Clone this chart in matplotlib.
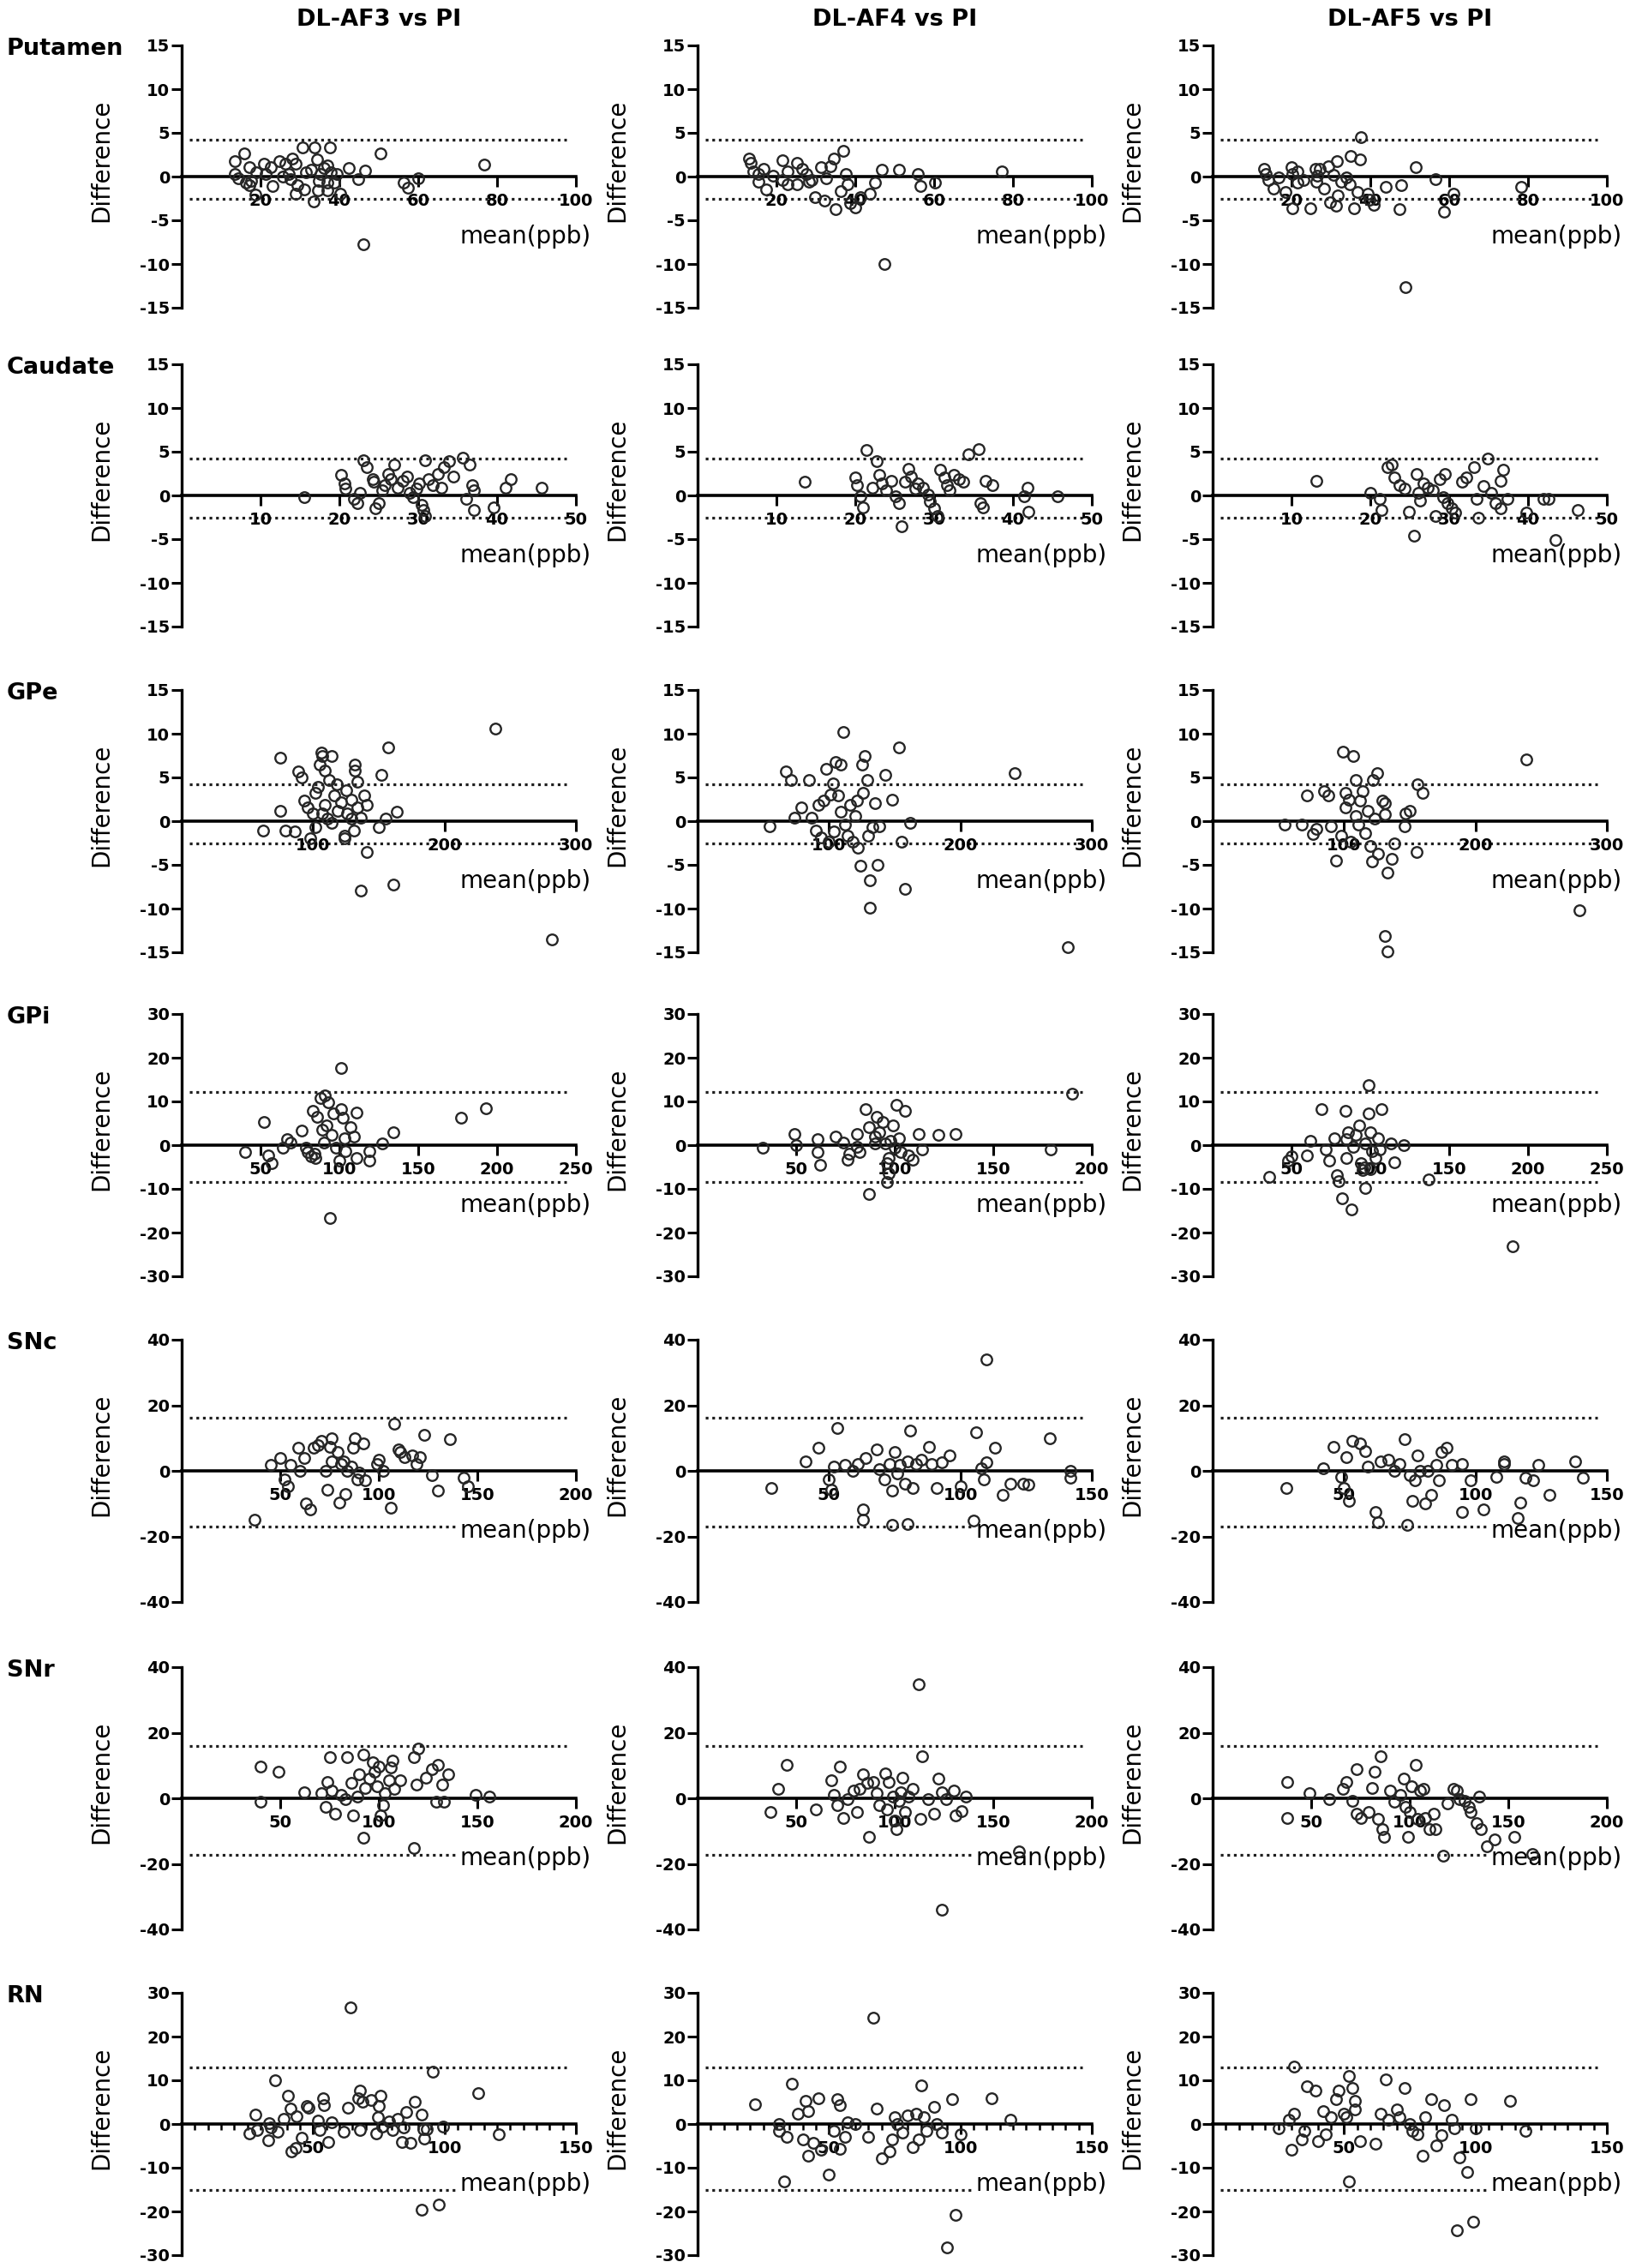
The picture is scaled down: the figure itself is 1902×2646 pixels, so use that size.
import matplotlib
matplotlib.use('Agg')
import matplotlib.pyplot as plt
import matplotlib.transforms as mtransforms
from matplotlib.ticker import MultipleLocator

plt.rcParams['font.family'] = ['DejaVu Sans']

COLUMNS = ['DL-AF3 vs PI', 'DL-AF4 vs PI', 'DL-AF5 vs PI']
REGIONS = ['Putamen', 'Caudate', 'GPe', 'GPi', 'SNc', 'SNr', 'RN']

# y-axis limits / tick step per region
Y_LIMITS = [15, 15, 15, 30, 40, 40, 30]
Y_STEPS = [5, 5, 5, 10, 20, 20, 10]
# x-axis maximum per region and column
X_MAX = [[100, 100, 100], [50, 50, 50], [300, 300, 300], [250, 200, 250],
         [200, 150, 150], [200, 200, 200], [150, 150, 150]]
X_STEPS = [20, 10, 100, 50, 50, 50, 50]
X_MINOR = [None, None, None, None, None, None, 5]
# limits of agreement (upper, lower)
LOA_UPPER = [4.2, 4.2, 4.2, 12.1, 16.1, 16.0, 12.9]
LOA_LOWER = [-2.5, -2.5, -2.5, -8.5, -17.0, -17.2, -15.0]

# ---------------- data: (mean, difference) ----------------
PUT_AF3 = [(13.5, 1.8), (15.8, 2.6), (13.5, 0.3), (14.4, -0.2), (16.2, -0.65), (17.1, 1.1), (17.1, -1.0),
           (17.6, -0.5), (19.0, 0.5), (18.8, -2.1), (20.8, 1.5), (21.2, 0.3), (23.0, -1.1), (22.6, 1.1),
           (24.8, 1.8), (26.2, 1.5), (25.7, 0.0), (27.1, 0.3), (28.0, 2.1), (28.9, 1.5), (27.5, -0.3),
           (29.3, -1.0), (28.9, -2.0), (30.7, 3.3), (31.1, -1.5), (31.6, 0.5), (32.9, 0.8), (33.4, -2.8),
           (33.8, 3.3), (34.3, 2.0), (34.7, -0.5), (34.6, -1.6), (35.2, 0.3), (36.1, 1.0), (37.0, -0.65),
           (37.5, 3.3), (37.0, 1.3), (37.0, -1.6), (37.9, 0.5), (38.8, -0.65), (39.3, 0.3), (40.2, -2.0),
           (42.4, 1.0), (44.7, -0.3), (46.5, 0.65), (46.0, -7.7), (50.4, 2.6), (56.4, -0.65), (57.3, -1.3),
           (60.0, -0.2), (76.7, 1.4)]
PUT_AF4 = [(13.0, 2.1), (13.5, 1.6), (14.2, 0.6), (15.4, -0.55), (16.7, 0.9), (17.4, -1.5), (19.1, 0.1),
           (21.6, 1.9), (22.8, -0.9), (22.8, 0.6), (25.2, 1.6), (26.5, 0.9), (27.7, 0.3), (28.2, -0.55),
           (29.7, -2.4), (31.4, 1.1), (32.1, -2.7), (32.6, -0.2), (33.8, 1.2), (34.6, 2.1), (35.0, -3.7),
           (36.3, -1.7), (37.0, 2.9), (37.5, 0.3), (38.0, -0.9), (38.7, -3.0), (40.0, -3.5), (41.2, -2.4),
           (43.6, -2.0), (44.9, -0.7), (46.8, 0.75), (51.0, 0.75), (55.9, 0.3), (56.6, -1.05), (60.3, -0.7),
           (77.2, 0.6), (47.3, -10.0), (25.2, -0.9), (28.9, -0.4), (21.6, -0.4), (15.4, 0.3)]
PUT_AF5 = [(13.0, 0.9), (13.5, 0.3), (14.2, -0.4), (15.5, -1.4), (16.7, -0.1), (18.5, -1.8), (19.9, 1.1),
           (20.3, 0.3), (21.6, -0.7), (20.2, -3.6), (24.8, -3.6), (23.1, -0.4), (26.0, 0.9), (27.1, 0.9),
           (26.3, -0.6), (28.2, -1.4), (29.4, 1.2), (29.8, -2.9), (31.5, 1.8), (31.3, -3.3), (31.7, -2.2),
           (33.9, -0.1), (34.7, -0.9), (35.1, 2.4), (35.9, -3.6), (36.7, -1.8), (37.6, 4.5), (37.4, 2.0),
           (39.3, -2.0), (40.8, -3.2), (39.8, -2.6), (44.0, -1.2), (47.3, -3.7), (47.9, -1.0), (48.9, -12.6),
           (51.5, 1.1), (56.5, -0.3), (58.8, -4.0), (61.0, -2.0), (78.2, -1.2), (21.6, 0.6), (26.5, 0.1),
           (32.6, -0.55), (30.6, 0.2)]

CAU_AF3 = [(15.5, -0.2), (20.2, 2.4), (20.6, 1.4), (20.8, 0.75), (21.8, -0.4), (22.3, -0.9), (22.6, 0.3),
           (23.0, 4.0), (23.5, 3.2), (24.2, 1.9), (24.4, 1.6), (24.6, -1.5), (25.0, -0.9), (25.4, 0.6),
           (25.8, 1.2), (26.2, 2.5), (26.5, 1.9), (27.0, 3.5), (27.4, 0.9), (28.0, 1.7), (28.6, 2.2),
           (28.9, 0.3), (29.4, -0.2), (29.8, 0.75), (30.1, 1.4), (30.4, -1.05), (30.6, -1.7), (30.9, -2.4),
           (30.9, 4.0), (31.3, 1.9), (31.8, 1.2), (32.5, 2.5), (32.9, 0.9), (33.3, 3.2), (33.9, 3.9),
           (34.5, 2.2), (35.7, 4.3), (36.1, -0.4), (36.5, 3.5), (36.9, 1.2), (37.1, 0.6), (37.1, -1.7),
           (39.6, -1.4), (41.1, 0.9), (41.7, 1.9), (45.6, 0.9)]
CAU_AF4 = [(13.6, 1.6), (20.0, 2.1), (20.2, 1.2), (20.6, -0.1), (21.0, -1.4), (21.4, 5.2), (22.2, 0.9),
           (22.7, 3.9), (23.0, 2.4), (23.4, 1.4), (23.9, 0.6), (24.6, 1.7), (25.1, -0.1), (25.5, -0.9),
           (25.9, -3.5), (26.3, 1.6), (26.7, 3.0), (27.1, 2.2), (27.6, 0.75), (27.9, 1.4), (28.6, 0.9),
           (29.2, 0.1), (29.5, -0.7), (30.0, -1.5), (30.4, -2.4), (30.8, 2.9), (31.3, 2.1), (31.6, 1.2),
           (32.0, 0.6), (32.5, 2.4), (33.2, 1.9), (33.7, 1.6), (34.4, 4.7), (35.7, 5.3), (35.9, -0.9),
           (36.2, -1.4), (36.5, 1.7), (37.4, 1.2), (41.4, -0.1), (41.8, 0.9), (42.0, -1.9), (45.7, -0.1)]
CAU_AF5 = [(13.2, 1.7), (20.0, 0.3), (21.2, -0.4), (21.4, -1.7), (22.2, 3.2), (22.7, 3.5), (23.0, 2.1),
           (23.7, 1.2), (24.3, 0.75), (24.9, -1.9), (25.5, -4.6), (25.9, 2.5), (26.1, 0.3), (26.3, -0.55),
           (26.7, 1.4), (27.3, 0.9), (27.9, 0.6), (28.3, -2.4), (28.8, 1.9), (29.2, -0.2), (29.5, 2.5),
           (29.8, -0.9), (30.3, -1.5), (30.8, -2.0), (31.6, 1.6), (32.2, 2.1), (33.5, -0.4), (33.7, -2.5),
           (33.2, 3.2), (34.4, 1.1), (34.9, 4.2), (35.3, 0.3), (35.9, -0.9), (36.5, 1.7), (36.5, -1.5),
           (36.9, 2.9), (37.4, -0.4), (39.8, -2.0), (42.0, -0.4), (42.6, -0.4), (43.5, -5.1), (46.3, -1.7)]

GPE_AF3 = [(62, -1.05), (75, 1.2), (75, 7.3), (79, -1.05), (86, -1.2), (89, 5.7), (91, 5.0), (93, 2.4),
           (96, 1.6), (98, -2.0), (100, 0.9), (102, -0.7), (102, 3.2), (104, 3.9), (105, 6.5), (106, 7.8),
           (107, 7.5), (109, 5.8), (109, 1.9), (111, 0.3), (112, 4.7), (114, 7.5), (116, 2.9), (118, 4.2),
           (119, 1.2), (121, 2.2), (124, -1.7), (125, 3.5), (126, 0.9), (129, 2.5), (129, 0.3), (131, -1.05),
           (132, 6.5), (132, 5.8), (134, 4.5), (134, 1.6), (136, 0.4), (136, -7.9), (139, 2.9), (141, 1.9),
           (141, -3.5), (150, -0.7), (152, 5.3), (155, 0.3), (157, 8.4), (161, -7.3), (164, 1.1), (239, 10.6),
           (282, -13.5), (124, -2.0), (114, -0.2), (107, 0.9)]
GPE_AF4 = [(55, -0.55), (67, 5.7), (71, 4.7), (74, 0.4), (79, 1.6), (85, 4.7), (87, 0.4), (90, -1.05),
           (92, 1.9), (94, -1.9), (96, 2.4), (98, 6.0), (100, -2.4), (101, 3.0), (103, 4.3), (104, -1.2),
           (105, 6.8), (107, 2.9), (109, 6.5), (109, 1.1), (111, 10.2), (112, -0.4), (114, -1.7), (116, 1.9),
           (118, -2.4), (120, 0.6), (121, 2.4), (122, -3.0), (124, -5.1), (125, 6.5), (126, 3.2), (127, 7.5),
           (129, 4.7), (130, -1.7), (131, -6.8), (131, -9.9), (133, -0.7), (135, 2.1), (137, -5.0),
           (138, -0.55), (143, 5.3), (148, 2.5), (153, 8.4), (155, -2.4), (158, -7.7), (162, -0.2),
           (241, 5.5), (282, -14.4)]
GPE_AF5 = [(55, -0.4), (68, -0.4), (72, 2.9), (76, -1.5), (79, -0.9), (85, 3.4), (88, 2.9), (90, -0.55),
           (94, -4.5), (98, -1.7), (99, 7.9), (101, 1.6), (101, 3.2), (104, 2.5), (105, -2.4), (107, 7.5),
           (109, 4.7), (109, 0.6), (111, -0.4), (112, 2.4), (114, 3.4), (116, -1.4), (118, 1.2), (120, -2.8),
           (121, -4.6), (122, 4.7), (123, 0.3), (125, 5.5), (126, -3.7), (129, 2.4), (131, 2.1), (131, 0.75),
           (133, -5.9), (131, -13.1), (133, -14.9), (136, -4.3), (138, -2.5), (146, -0.55), (147, 0.9),
           (150, 1.2), (155, -3.5), (156, 4.2), (160, 3.2), (239, 7.1), (279, -10.2)]

GPI_AF3 = [(40, -1.6), (52, 5.2), (55, -2.3), (57, -4.2), (64, -0.65), (67, 1.3), (69, 0.65), (76, 3.3),
           (79, -0.65), (82, -2.6), (83, 7.8), (85, -2.9), (86, 6.5), (88, 10.8), (89, 3.6), (91, 11.4),
           (92, 4.6), (93, 9.8), (94, -16.7), (95, 2.3), (96, 7.2), (98, -0.65), (100, -3.6), (101, 17.6),
           (101, 8.2), (102, 6.2), (103, 1.6), (104, -1.3), (107, 4.2), (109, 2.0), (111, 7.5), (111, -2.9),
           (119, -3.6), (119, -1.3), (127, 0.3), (134, 2.9), (177, 6.2), (193, 8.5), (84, -2.0), (80, -1.5),
           (90, 0.5)]
GPI_AF4 = [(33, -0.65), (49, 2.6), (50, 0.0), (61, 1.3), (61, -1.6), (62, -4.6), (70, 2.0), (74, 0.65),
           (76, -3.3), (77, -2.0), (81, 2.6), (81, -0.3), (82, -1.6), (85, 8.2), (87, 4.2), (87, -11.1),
           (90, 2.0), (91, 6.5), (92, 2.9), (94, 5.2), (95, 0.3), (96, -4.2), (96, -8.5), (97, -6.5),
           (98, 1.0), (99, 4.6), (100, -0.65), (101, 9.2), (102, 1.6), (103, -1.6), (105, 7.8), (107, -2.3),
           (109, -3.3), (112, 2.6), (114, -1.0), (122, 2.3), (131, 2.6), (179, -1.0), (190, 11.8),
           (97, -2.9), (90, 0.3)]
GPI_AF5 = [(36, -7.2), (48, -3.6), (50, -2.6), (60, -2.3), (62, 1.0), (69, 8.2), (72, -1.0), (74, -3.6),
           (77, 1.6), (79, -6.9), (80, -8.2), (82, -12.1), (84, 7.8), (85, 1.3), (85, -2.9), (88, -14.7),
           (86, 2.9), (89, -0.3), (91, 2.3), (93, 4.6), (94, -4.2), (95, -5.6), (97, -9.8), (97, 0.3),
           (99, 13.7), (99, 7.2), (100, 2.9), (101, -1.3), (103, -2.9), (105, 1.6), (106, -1.0), (107, 8.2),
           (113, 0.3), (115, -3.9), (121, 0.0), (137, -7.8), (190, -23.2), (96, -5.0), (100, -5.5)]

SNC_AF3 = [(37, -14.8), (45, 1.7), (50, 3.9), (52, -2.6), (54, -4.8), (55, 1.7), (59, 7.0), (60, 0.0),
           (62, 3.9), (63, -10.0), (65, -11.7), (67, 7.0), (69, 7.8), (71, 9.1), (73, 0.0), (74, -5.7),
           (75, 7.4), (76, 10.0), (76, 3.0), (79, 5.7), (80, -9.6), (81, 2.2), (82, 3.0), (83, -7.0),
           (84, 0.0), (86, 1.3), (87, 7.0), (88, 10.0), (89, -2.6), (90, -0.4), (92, 8.3), (93, -3.0),
           (99, 2.2), (100, 3.5), (102, 0.0), (106, -11.3), (108, 14.3), (110, 6.5), (111, 5.7), (113, 4.3),
           (117, 4.8), (119, 2.2), (121, 4.3), (123, 10.9), (127, -1.3), (130, -6.1), (136, 9.6),
           (143, -2.2), (145, -4.8)]
SNC_AF4 = [(28, -5.2), (41, 3.0), (46, 7.0), (50, -2.6), (51, -5.7), (52, 1.3), (53, 13.0), (56, 1.7),
           (59, 0.0), (61, 2.2), (63, -11.7), (63, -14.8), (64, 3.9), (68, 6.5), (69, 0.4), (71, -2.6),
           (73, 2.2), (74, -6.1), (74, -16.5), (75, 5.7), (76, -0.9), (77, 1.7), (79, -3.9), (80, -16.1),
           (80, 3.0), (81, 12.2), (82, -5.2), (83, 2.2), (85, 3.5), (88, 7.4), (89, 2.2), (91, -5.2),
           (93, 2.6), (96, 4.8), (100, -4.8), (105, -15.2), (106, 11.7), (108, 0.9), (109, -2.6), (110, 2.6),
           (113, 7.0), (116, -7.4), (119, -3.9), (124, -3.9), (126, -4.3), (134, 10.0), (142, 0.0),
           (142, -2.2), (110, 33.9)]
SNC_AF5 = [(28, -5.2), (42, 0.9), (46, 7.4), (49, -1.7), (50, -5.2), (51, 4.3), (52, -9.1), (53, 9.1),
           (56, 8.3), (58, 6.1), (59, 1.3), (62, -12.6), (63, -15.7), (64, 3.0), (67, 3.5), (69, 0.0),
           (71, 2.2), (73, 9.6), (74, -16.5), (75, -1.3), (76, -9.1), (77, -3.0), (78, 4.8), (79, 0.0),
           (81, -10.0), (82, 0.0), (83, -7.4), (85, 1.7), (86, -3.0), (87, 5.7), (89, 7.0), (91, 1.7),
           (95, -12.6), (95, 2.2), (98, -3.0), (103, -11.7), (108, -1.7), (111, 2.2), (111, 3.0),
           (116, -14.3), (117, -9.6), (119, -2.2), (122, -3.0), (124, 1.7), (128, -7.4), (138, 3.0),
           (141, -2.2)]

SNR_AF3 = [(40, -1.1), (40, 9.8), (49, 8.1), (62, 1.9), (71, 1.5), (73, -2.5), (74, 5.0), (75, 12.5),
           (76, 2.4), (78, -4.6), (81, 1.1), (83, -0.3), (84, 12.5), (86, 4.6), (87, -5.1), (89, 0.6),
           (90, 7.2), (92, -12.1), (92, 13.3), (93, 3.2), (95, 5.9), (97, 11.1), (98, 8.1), (99, 3.7),
           (100, 9.8), (101, -5.1), (102, -2.0), (103, 1.5), (105, 5.4), (106, 9.4), (107, 11.6), (108, 2.8),
           (111, 5.4), (118, -15.2), (118, 12.5), (119, 4.1), (120, 15.1), (124, 6.3), (127, 8.9),
           (129, -1.1), (130, 10.3), (132, 4.1), (133, -1.1), (135, 7.2), (149, 1.1), (156, 0.6)]
SNR_AF4 = [(37, -4.2), (41, 2.8), (45, 10.3), (60, -3.3), (68, 5.4), (69, 1.1), (71, -2.0), (72, 9.8),
           (74, -6.0), (76, -0.3), (79, 2.4), (81, -4.2), (82, 2.8), (84, 7.2), (86, 4.6), (87, -11.7),
           (89, 5.0), (91, 1.5), (92, -2.0), (95, 7.6), (96, -3.3), (97, 5.0), (99, 0.6), (100, -6.8),
           (101, -9.5), (102, -0.7), (103, 1.9), (104, 6.3), (105, -4.2), (107, 0.6), (109, 2.8),
           (112, 34.8), (113, -6.4), (114, 12.9), (117, -0.3), (120, -4.6), (122, 5.9), (124, 1.9),
           (124, -34.0), (126, -0.3), (130, 2.4), (131, -5.1), (134, -3.8), (136, 0.6), (163, -16.1)]
SNR_AF5 = [(38, 5.0), (38, -6.0), (49, 1.5), (59, -0.3), (66, 2.8), (68, 5.0), (71, -0.7), (73, -4.6),
           (73, 8.9), (75, -6.0), (79, -4.2), (81, 3.2), (82, 8.1), (84, -6.4), (85, 12.9), (86, -9.5),
           (87, -11.7), (90, 2.4), (92, -1.1), (95, 1.1), (97, 5.9), (98, -2.5), (99, -11.7), (100, -4.2),
           (101, 3.7), (103, 10.3), (104, -6.4), (105, 2.4), (107, 2.8), (108, -6.0), (110, -9.5),
           (112, -4.6), (113, -9.5), (117, -17.4), (119, -1.6), (122, 2.8), (124, 2.4), (125, -0.3),
           (128, -0.7), (130, -2.5), (131, -4.2), (134, -7.7), (135, 0.6), (136, -9.5), (139, -14.7),
           (143, -12.5), (153, -11.7), (162, -17.0)]

RN_AF3 = [(25.9, -2.1), (27.9, 2.2), (28.8, -1.4), (32.9, -3.7), (33.3, 0.2), (34.0, -0.8), (35.6, 10.0),
          (36.5, -1.8), (38.8, 1.2), (40.5, 6.4), (41.5, 3.5), (41.9, -6.3), (43.3, -5.4), (43.8, 1.8),
          (45.6, -3.1), (47.6, 4.1), (48.3, 3.8), (51.7, 0.8), (52.4, -1.4), (53.7, 5.8), (54.1, 4.4),
          (55.8, -4.1), (57.1, 0.3), (61.5, -1.8), (63.3, 3.8), (64.2, 26.7), (67.3, 5.8), (67.8, 7.7),
          (67.8, -1.4), (68.7, 5.1), (72.1, 5.4), (74.1, -2.1), (74.8, 1.5), (75.1, 4.1), (75.5, 6.4),
          (76.2, -0.5), (78.9, 0.5), (80.3, -1.4), (82.3, 1.2), (83.7, -4.1), (84.4, -0.8), (85.4, 2.8),
          (87.1, -4.4), (88.7, 5.1), (91.2, 2.2), (91.8, -1.1), (92.2, -3.4), (93.2, -1.1), (95.5, 12.0),
          (91.4, -19.7), (97.7, -18.4), (99.6, -0.5), (112.9, 7.1), (120.8, -2.4)]
RN_AF4 = [(22, 4.6), (31, 0.0), (31, -1.6), (33, -13.2), (34, -3.0), (36, 9.2), (38, 2.3), (40, -3.6),
          (41, 5.3), (42, 3.0), (42, -7.3), (44, -4.3), (46, 5.9), (47, -5.9), (50, -11.5), (52, -1.6),
          (53, 5.6), (54, 4.3), (54, -5.6), (56, -3.0), (57, 0.3), (60, 0.0), (65, -3.0), (67, 24.4),
          (68, 3.6), (70, -7.9), (73, -6.3), (74, -3.6), (75, 1.6), (76, 0.0), (78, -2.0), (80, 2.0),
          (82, -5.3), (83, 2.3), (84, -3.6), (85, 8.9), (86, 1.6), (87, -1.6), (90, 4.0), (91, 0.0),
          (93, -2.0), (95, -28.3), (97, 5.6), (98, -20.8), (100, -2.3), (112, 5.9), (119, 1.0)]
RN_AF5 = [(25, -1.0), (29, 1.0), (30, -5.9), (31, 2.3), (31, 13.2), (34, -3.6), (35, -1.6), (36, 8.6),
          (39, 7.6), (40, -4.0), (42, 3.0), (43, -2.3), (45, 1.6), (47, 5.6), (48, 7.6), (50, 2.3),
          (51, 1.6), (52, -13.2), (52, 10.9), (53, 8.2), (54, 5.3), (54, 3.3), (56, -4.0), (62, -4.6),
          (64, 2.3), (66, 10.2), (67, 1.0), (70, 3.3), (71, 1.6), (73, 8.2), (75, 0.0), (76, -1.6),
          (78, -2.3), (80, -7.3), (81, 1.6), (83, 5.6), (85, -4.9), (87, -2.6), (88, 4.3), (91, 1.0),
          (92, -1.0), (93, -24.4), (94, -7.6), (97, -10.9), (98, 5.6), (99, -22.4), (100, -1.0),
          (113, 5.3), (119, -1.6)]

DATA = [[PUT_AF3, PUT_AF4, PUT_AF5], [CAU_AF3, CAU_AF4, CAU_AF5], [GPE_AF3, GPE_AF4, GPE_AF5],
        [GPI_AF3, GPI_AF4, GPI_AF5], [SNC_AF3, SNC_AF4, SNC_AF5], [SNR_AF3, SNR_AF4, SNR_AF5],
        [RN_AF3, RN_AF4, RN_AF5]]

# ---------------- layout (pixels) ----------------
W, H = 1902, 2646
DPI = 100
fig = plt.figure(figsize=(W / DPI, H / DPI), dpi=DPI)

COL_LEFT = [212, 814, 1415]
AX_W = 460
ROW_TOP = [53, 425, 805, 1183, 1563, 1945, 2325]
AX_H = 306

TICK_FS = 14
LABEL_FS = 20
HEAD_FS = 19.5

for r, region in enumerate(REGIONS):
    for c in range(3):
        left = COL_LEFT[c] / W
        bottom = 1 - (ROW_TOP[r] + AX_H) / H
        ax = fig.add_axes([left, bottom, AX_W / W, AX_H / H])
        xmax = X_MAX[r][c]
        ylim = Y_LIMITS[r]
        ax.set_xlim(0, xmax)
        ax.set_ylim(-ylim, ylim)

        pts = DATA[r][c]
        xs = [p[0] for p in pts]
        ys = [p[1] for p in pts]
        ax.plot(xs, ys, linestyle='none', marker='o', markersize=9,
                markerfacecolor='none', markeredgecolor='#262626', markeredgewidth=1.7,
                zorder=3, clip_on=False)

        # limits of agreement
        for v in (LOA_UPPER[r], LOA_LOWER[r]):
            ax.axhline(v, xmin=0.02, xmax=0.975, color='#1e1e1e', linewidth=2.3,
                       linestyle=(0, (1.0, 1.4)), zorder=1)

        for s in ('top', 'right'):
            ax.spines[s].set_visible(False)
        ax.spines['bottom'].set_position(('data', 0))
        ax.spines['bottom'].set_linewidth(2.6)
        ax.spines['left'].set_linewidth(2.4)

        xt = list(range(X_STEPS[r], xmax + 1, X_STEPS[r]))
        ax.set_xticks(xt)
        ax.set_xticklabels([str(t) for t in xt], fontweight='bold', fontsize=TICK_FS)
        yt = list(range(-ylim, ylim + 1, Y_STEPS[r]))
        ax.set_yticks(yt)
        ax.set_yticklabels([str(t) for t in yt], fontweight='bold', fontsize=TICK_FS)
        if X_MINOR[r]:
            ax.xaxis.set_minor_locator(MultipleLocator(X_MINOR[r]))
            ax.tick_params(axis='x', which='minor', direction='out', length=5, width=1.8)
        ax.tick_params(axis='x', which='major', direction='out', length=8.5, width=2.2, pad=5)
        ax.tick_params(axis='y', which='major', direction='out', length=8.5, width=2.2, pad=1.5)

        ax.set_ylabel('Difference', fontsize=LABEL_FS)
        ax.yaxis.set_label_coords(-0.174, 0.56)

        trans = mtransforms.blended_transform_factory(ax.transAxes, ax.transData)
        ax.annotate('mean(ppb)', xy=(1.0, 0), xycoords=trans, xytext=(18, -70),
                    textcoords='offset pixels', ha='right', va='center', fontsize=LABEL_FS,
                    bbox=dict(facecolor='white', edgecolor='none', pad=1), zorder=2.5,
                    annotation_clip=False)

        if r == 0:
            fig.text((COL_LEFT[c] + AX_W / 2) / W, 1 - 23 / H, COLUMNS[c], ha='center',
                     va='center', fontsize=HEAD_FS, fontweight='bold')
    fig.text(8 / W, 1 - (ROW_TOP[r] + 4) / H, region, ha='left', va='center',
             fontsize=HEAD_FS, fontweight='bold')

fig.savefig('out.png', dpi=DPI, facecolor='white')
